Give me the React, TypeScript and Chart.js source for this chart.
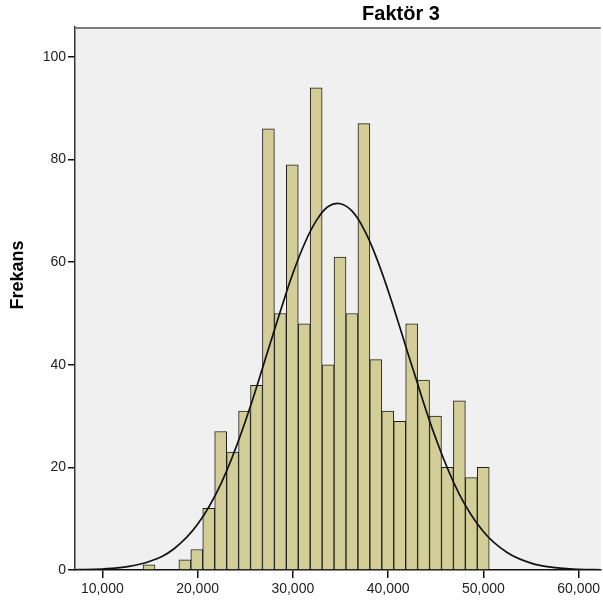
import React, { useEffect, useRef } from "react";
import { Chart, registerables } from "chart.js";

Chart.register(...registerables);

// Histogram bins (bin centres) and frequencies
const binCenters = [
  14908, 18667, 19920, 21173, 22426, 23679, 24932, 26185, 27438, 28691, 29944,
  31197, 32450, 33703, 34956, 36209, 37462, 38715, 39968, 41221, 42474, 43727,
  44980, 46233, 47486, 48739, 49992,
];
const frequencies = [
  1, 2, 4, 12, 27, 23, 31, 36, 86, 50, 79, 48, 94, 40, 61, 50, 87, 41, 31, 29,
  48, 37, 30, 20, 33, 18, 20,
];

// Normal curve overlay
const curveX = [
  5000, 7500, 10000, 12500, 15000, 17500, 20000, 22500, 25000, 27500, 28750,
  30000, 31250, 32500, 33750, 35000, 36250, 37500, 38750, 40000, 41250, 42500,
  45000, 47500, 50000, 52500, 55000, 57500, 60000, 62500,
];
const curveY = [
  0.01, 0.06, 0.2, 0.62, 1.7, 4.1, 8.9, 17.0, 28.9, 43.4, 50.8, 57.8, 63.7,
  68.2, 70.9, 71.4, 69.9, 66.3, 61.0, 54.5, 47.2, 39.8, 25.7, 14.7, 7.5, 3.4,
  1.34, 0.47, 0.15, 0.04,
];

const xTicks = [10000, 20000, 30000, 40000, 50000, 60000];
const xTickLabels = ["10,000", "20,000", "30,000", "40,000", "50,000", "60,000"];
const yTicks = [0, 20, 40, 60, 80, 100];

const title = "Faktör 3";
const yTitle = "Frekans";

const FONT = '"Liberation Sans", Arial, sans-serif';

export default function App() {
  const ref = useRef<HTMLCanvasElement | null>(null);

  useEffect(() => {
    const canvas = ref.current;
    if (!canvas) return;

    const decor = {
      id: "decor",
      beforeDraw(chart: any) {
        const { ctx, chartArea: a } = chart;
        ctx.save();
        ctx.fillStyle = "#f0f0f0";
        ctx.fillRect(a.left, a.top, a.right - a.left, a.bottom - a.top);
        ctx.restore();
      },
      afterDraw(chart: any) {
        const { ctx, chartArea: a } = chart;
        ctx.save();
        // top frame line
        ctx.strokeStyle = "#7d7d7d";
        ctx.lineWidth = 2;
        ctx.beginPath();
        ctx.moveTo(a.left, a.top + 1);
        ctx.lineTo(a.right, a.top + 1);
        ctx.stroke();
        // chart title
        ctx.fillStyle = "#000";
        ctx.font = `bold 20px ${FONT}`;
        ctx.textAlign = "center";
        ctx.textBaseline = "middle";
        ctx.fillText(title, 401, 14);
        // y axis title
        ctx.translate(18, 275);
        ctx.rotate(-Math.PI / 2);
        ctx.font = `bold 18px ${FONT}`;
        ctx.fillText(yTitle, 0, 0);
        ctx.restore();
      },
    };

    const chart = new Chart(canvas, {
      type: "bar",
      data: {
        datasets: [
          {
            type: "line",
            data: curveX.map((x, i) => ({ x, y: curveY[i] })),
            borderColor: "#111",
            borderWidth: 1.7,
            pointRadius: 0,
            tension: 0.4,
            fill: false,
            order: 0,
          } as any,
          {
            type: "bar",
            data: binCenters.map((x, i) => ({ x, y: frequencies[i] })),
            backgroundColor: "#d3ce97",
            borderColor: "#1f1f1f",
            borderWidth: { top: 1, left: 1, right: 1, bottom: 0 },
            borderSkipped: false,
            barPercentage: 1,
            categoryPercentage: 1,
            order: 1,
          } as any,
        ],
      },
      options: {
        responsive: false,
        animation: false,
        layout: { padding: { top: 27, left: 0, right: 0, bottom: 0 } },
        plugins: {
          legend: { display: false },
          tooltip: { enabled: false },
          title: { display: false },
        },
        scales: {
          x: {
            type: "linear",
            min: 7133,
            max: 62330,
            offset: false,
            afterFit: (s: any) => {
              s.height = 34;
            },
            afterBuildTicks: (s: any) => {
              s.ticks = xTicks.map((v) => ({ value: v }));
            },
            ticks: {
              includeBounds: false,
              autoSkip: false,
              maxRotation: 0,
              padding: 3,
              color: "#222",
              font: { family: FONT, size: 14 },
              callback: (v: any) => {
                const i = xTicks.indexOf(Number(v));
                return i >= 0 ? xTickLabels[i] : "";
              },
            },
            grid: {
              offset: false,
              drawOnChartArea: false,
              drawTicks: true,
              tickLength: 8,
              color: "#111",
              lineWidth: 1.5,
            },
            border: { display: true, color: "#111", width: 1.5 },
          },
          y: {
            min: 0,
            max: 105.85,
            afterFit: (s: any) => {
              s.width = 75;
            },
            afterBuildTicks: (s: any) => {
              s.ticks = yTicks.map((v) => ({ value: v }));
            },
            ticks: {
              includeBounds: false,
              padding: 2,
              color: "#222",
              font: { family: FONT, size: 14 },
            },
            grid: {
              drawOnChartArea: false,
              drawTicks: true,
              tickLength: 7,
              color: "#111",
              lineWidth: 1.5,
            },
            border: { display: true, color: "#333", width: 1.5 },
          },
        },
      },
      plugins: [decor],
    } as any);

    return () => chart.destroy();
  }, []);

  return (
    <div
      style={{
        position: "fixed",
        left: 0,
        top: 0,
        width: 603,
        height: 604,
        background: "#fff",
      }}
    >
      <canvas ref={ref} width={603} height={604} style={{ width: 603, height: 604, display: "block" }} />
    </div>
  );
}
